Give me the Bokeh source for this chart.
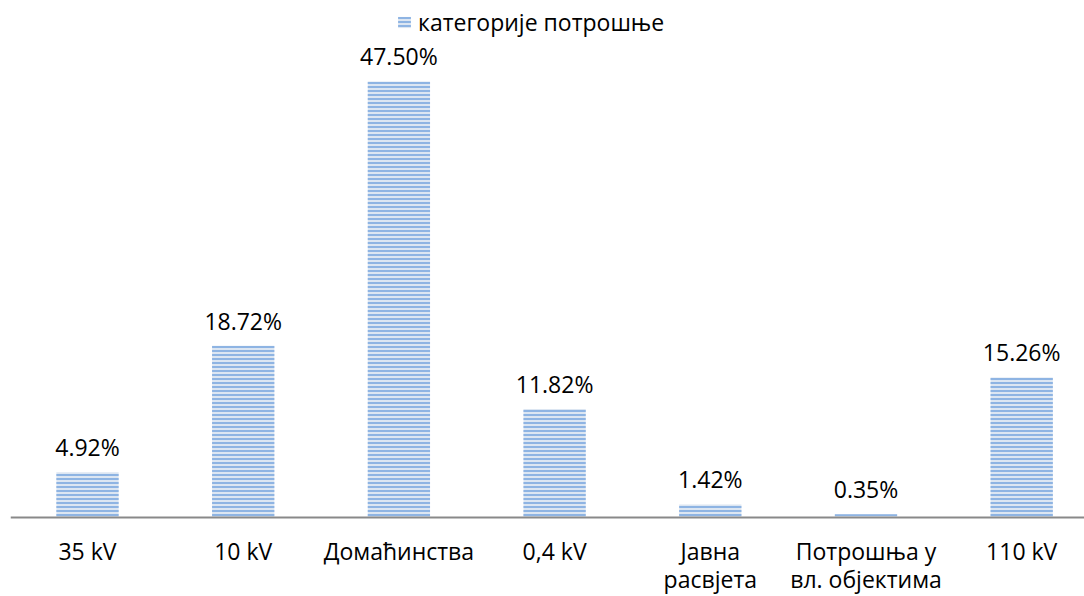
from bokeh.plotting import figure
from bokeh.models import ColumnDataSource, Legend, LegendItem, Span
from bokeh.embed import file_html
from bokeh.resources import INLINE
from bokeh.core.properties import value

categories = ["35 kV", "10 kV", "Домаћинства", "0,4 kV", "Јавна\nрасвјета", "Потрошња у\nвл. објектима", "110 kV"]
shares = [4.92, 18.72, 47.50, 11.82, 1.42, 0.35, 15.26]
series_name = "категорије потрошње"

xs = list(range(len(categories)))
labels = [f"{v:.2f}%" for v in shares]
line1 = [c.split("\n")[0] for c in categories]
line2 = [c.split("\n")[1] if "\n" in c else "" for c in categories]
src = ColumnDataSource(dict(x=xs, top=shares, label=labels, zero=[0] * len(xs),
                            l1=line1, l2=line2))

FONT = "Open Sans"
FS = "23px"

p = figure(width=1084, height=596, output_backend="svg", toolbar_location=None,
           x_range=(-0.4946, 6.4034), y_range=(-8.606, 56.32),
           min_border_left=10, min_border_right=0, min_border_top=0, min_border_bottom=0)
p.outline_line_color = None
p.grid.visible = False
p.axis.visible = False

bars = p.vbar(x="x", top="top", width=0.40, source=src,
              fill_color="#DCE6F2", line_color=None,
              hatch_pattern="horizontal_line", hatch_color="#8EB4E3",
              hatch_scale=4, hatch_weight=2)

# baseline (category axis line)
p.add_layout(Span(location=0, dimension="width", line_color="#898989", line_width=2))

# value labels
p.text(x="x", y="top", text="label", source=src, text_align="center",
       text_baseline="alphabetic", y_offset=-25,
       text_font=value(FONT), text_font_size=FS, text_color="#000000")

# category labels
p.text(x="x", y="zero", text="l1", source=src, text_align="center",
       text_baseline="middle", y_offset=34,
       text_font=value(FONT), text_font_size=FS, text_color="#000000")
p.text(x="x", y="zero", text="l2", source=src, text_align="center",
       text_baseline="middle", y_offset=62,
       text_font=value(FONT), text_font_size=FS, text_color="#000000")

legend = Legend(items=[LegendItem(label=series_name, renderers=[bars])],
                location=(386, 558), orientation="horizontal",
                border_line_color=None, background_fill_alpha=0,
                padding=0, margin=0, glyph_width=16, glyph_height=14,
                label_standoff=6, label_text_font=FONT,
                label_text_font_size=FS, label_text_color="#000000")
p.add_layout(legend, "center")

open("out.html", "w").write(file_html(p, INLINE))
